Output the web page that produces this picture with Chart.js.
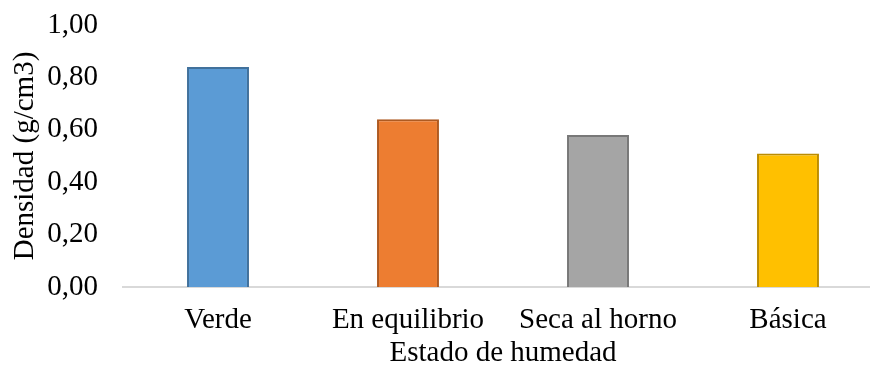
<!DOCTYPE html>
<html lang="es">
<head>
<meta charset="utf-8">
<title>Densidad según estado de humedad</title>
<script src="https://cdn.jsdelivr.net/npm/chart.js@4.4.1/dist/chart.umd.min.js"></script>
<style>
  html, body { margin: 0; padding: 0; background: #fff; overflow: hidden; }
  #wrap { width: 885px; height: 374px; }
</style>
</head>
<body>
<div id="wrap"><canvas id="densityChart" width="885" height="374"></canvas></div>
<script>
// Datos
const estados = ['Verde', 'En equilibrio', 'Seca al horno', 'Básica'];
const densidad = [0.84, 0.64, 0.58, 0.51];
const yTicks = [0, 0.2, 0.4, 0.6, 0.8, 1.0];

// Colores tipo Office por barra
const fillColors = ['#5b9bd5', '#ed7d31', '#a5a5a5', '#ffc000'];
const edgeColors = ['#41719c', '#ae5a21', '#787878', '#bc8c00'];

const serif = "'Liberation Serif', 'Times New Roman', serif";
const fmt = v => v.toFixed(2).replace('.', ',');

new Chart(document.getElementById('densityChart'), {
  type: 'bar',
  data: {
    labels: estados,
    datasets: [{
      data: densidad,
      backgroundColor: fillColors,
      borderColor: edgeColors,
      borderWidth: 2,
      barPercentage: 0.326,
      categoryPercentage: 1
    }]
  },
  options: {
    responsive: false,
    animation: false,
    layout: { padding: { left: 8, right: 2, top: 0, bottom: 0 } },
    plugins: {
      legend: { display: false },
      tooltip: { enabled: false }
    },
    scales: {
      x: {
        grid: { display: false, drawTicks: false },
        border: { display: true, color: '#d9d9d9', width: 2 },
        ticks: {
          color: '#000',
          padding: 16,
          maxRotation: 0,
          font: { family: serif, size: 29 }
        },
        title: {
          display: true,
          text: 'Estado de humedad',
          color: '#000',
          padding: { top: 0, bottom: 3 },
          font: { family: serif, size: 29 }
        },
        // fixed band under the plot for labels + title
        afterFit: axis => {
          axis.height = 87;
          axis.paddingLeft = 0;
          axis.paddingRight = 0;
        }
      },
      y: {
        min: 0,
        max: 1,
        afterBuildTicks: axis => { axis.ticks = yTicks.map(v => ({ value: v })); },
        grid: { display: false, drawTicks: false },
        border: { display: false },
        ticks: {
          color: '#000',
          padding: 25,
          font: { family: serif, size: 29 },
          callback: v => fmt(v)
        },
        title: {
          display: true,
          text: 'Densidad (g/cm3)',
          color: '#000',
          padding: { top: 0, bottom: 0 },
          font: { family: serif, size: 29 }
        },
        afterFit: axis => {
          axis.width = 115;
          axis.paddingTop = 25;
          axis.paddingBottom = 0;
        }
      }
    }
  }
});
</script>
</body>
</html>
